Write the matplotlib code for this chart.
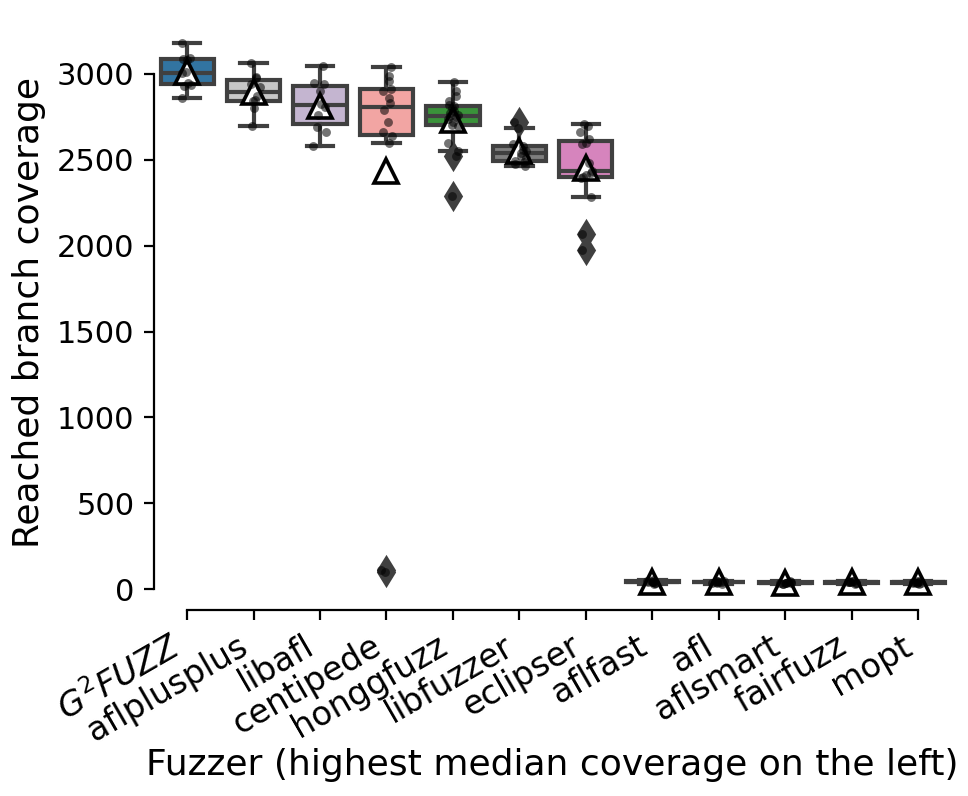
import colorsys
import numpy as np
import matplotlib
matplotlib.use('Agg')
import matplotlib.pyplot as plt
import matplotlib.colors as mcolors

### Data (reached branch coverage per trial)
fuzzers = ['$G^2FUZZ$', 'aflplusplus', 'libafl', 'centipede', 'honggfuzz', 'libfuzzer',
           'eclipser', 'aflfast', 'afl', 'aflsmart', 'fairfuzz', 'mopt']

g2fuzz = [2862, 2930, 2938, 2945, 3003, 3012, 3080, 3090, 3095, 3180]
aflplusplus = [2697, 2800, 2840, 2850, 2870, 2925, 2940, 2975, 2985, 3066]
libafl = [2579, 2660, 2690, 2760, 2810, 2825, 2900, 2940, 2950, 3048]
centipede = [100, 112, 2596, 2640, 2660, 2720, 2790, 2830, 2860, 2900, 2915, 2960, 2990, 3039]
honggfuzz = [2289, 2520, 2553, 2596, 2695, 2703, 2720, 2740, 2750, 2755, 2760, 2770,
             2785, 2800, 2812, 2820, 2840, 2870, 2900, 2951]
libfuzzer = [2464, 2475, 2488, 2495, 2510, 2525, 2538, 2550, 2560, 2583, 2590, 2687, 2722]
eclipser = [1975, 2070, 2285, 2395, 2401, 2410, 2425, 2435, 2480, 2590, 2600, 2624,
            2660, 2695, 2709]
aflfast = [32, 36, 38, 40, 41, 42, 43, 45, 46, 50]
afl = [30, 35, 38, 39, 40, 42, 43, 44, 46, 49]
aflsmart = [28, 31, 33, 35, 36, 37, 38, 40, 42, 45]
fairfuzz = [31, 35, 37, 39, 40, 41, 43, 44, 46, 48]
mopt = [29, 33, 35, 37, 38, 39, 40, 42, 44, 47]

data = [g2fuzz, aflplusplus, libafl, centipede, honggfuzz, libfuzzer, eclipser,
        aflfast, afl, aflsmart, fairfuzz, mopt]

base_colors = ['#1f77b4', '#c7c7c7', '#c5b0d5', '#ff9896', '#2ca02c', '#7f7f7f',
               '#e377c2', '#aec7e8', '#ff7f0e', '#ffbb78', '#98df8a', '#d62728']


def desaturate(c, prop=0.75):
    r, g, b = mcolors.to_rgb(c)
    h, l, s = colorsys.rgb_to_hls(r, g, b)
    return colorsys.hls_to_rgb(h, l, s * prop)


box_colors = [desaturate(c) for c in base_colors]
edge = '#404040'

plt.rcParams['font.family'] = 'DejaVu Sans'

fig = plt.figure(figsize=(4.84, 3.98), dpi=200)
ax = fig.add_axes([0.159, 0.2337, 0.8238, 0.7467])

positions = np.arange(len(fuzzers))
bp = ax.boxplot(data, positions=positions, widths=0.8, patch_artist=True, showmeans=True,
                boxprops=dict(edgecolor=edge, linewidth=1.5),
                medianprops=dict(color=edge, linewidth=1.5),
                whiskerprops=dict(color=edge, linewidth=1.5),
                capprops=dict(color=edge, linewidth=1.5),
                flierprops=dict(marker='d', markerfacecolor=edge, markeredgecolor=edge,
                                markersize=6.5),
                meanprops=dict(marker='^', markerfacecolor='white', markeredgecolor='black',
                               markersize=8.8, markeredgewidth=1.3))
for patch, col in zip(bp['boxes'], box_colors):
    patch.set_facecolor(col)

# strip of individual trials on top
rng = np.random.default_rng(3)
for i, vals in enumerate(data):
    xs = i + rng.uniform(-0.1, 0.1, len(vals))
    ax.plot(xs, vals, 'o', color='black', alpha=0.55, markersize=3.2,
            markeredgewidth=0, zorder=5)

ax.set_xlim(-0.5, len(fuzzers) - 0.5)
ax.set_ylim(-122, 3340)
ax.set_yticks(np.arange(0, 3001, 500))
ax.set_xticks(positions)
ax.set_xticklabels(fuzzers, rotation=30, ha='right')
ax.tick_params(axis='y', labelsize=11)
ax.tick_params(axis='x', labelsize=12)
ax.set_xlabel('Fuzzer (highest median coverage on the left)', fontsize=13, labelpad=0)
ax.set_ylabel('Reached branch coverage', fontsize=13)

ax.spines['top'].set_visible(False)
ax.spines['right'].set_visible(False)
ax.spines['left'].set_bounds(0, 3000)
ax.spines['bottom'].set_bounds(0, len(fuzzers) - 1)

fig.savefig('out.png', dpi=200)
